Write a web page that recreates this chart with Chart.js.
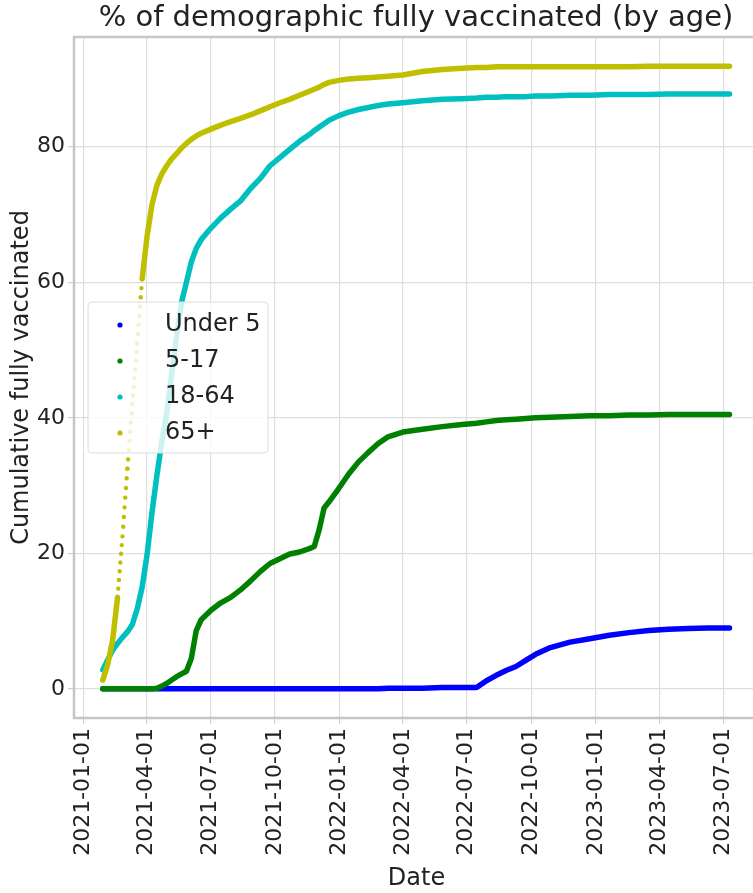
<!DOCTYPE html>
<html>
<head>
<meta charset="utf-8">
<title>% of demographic fully vaccinated (by age)</title>
<script src="https://cdn.jsdelivr.net/npm/chart.js@4.4.1/dist/chart.umd.min.js"></script>
<style>
  html, body { margin: 0; padding: 0; background: #ffffff; overflow: hidden; }
  #wrap { width: 832px; height: 893px; }
</style>
</head>
<body>
<div id="wrap"><canvas id="chart" width="832" height="893"></canvas></div>
<script>
// Sample dates (shared by all age groups)
const dates = [
  '2021-01-29','2021-02-05','2021-02-12','2021-02-19','2021-02-26','2021-03-05','2021-03-12','2021-03-19',
  '2021-03-26','2021-04-02','2021-04-09','2021-04-16','2021-04-23','2021-04-30','2021-05-07','2021-05-14',
  '2021-05-21','2021-05-28','2021-06-04','2021-06-11','2021-06-18','2021-07-02','2021-07-16','2021-07-30',
  '2021-08-13','2021-08-27','2021-09-10','2021-09-24','2021-10-08','2021-10-22','2021-11-05','2021-11-19',
  '2021-11-26','2021-12-03','2021-12-10','2021-12-17','2021-12-31','2022-01-14','2022-01-28','2022-02-11',
  '2022-02-25','2022-03-11','2022-04-01','2022-04-29','2022-05-27','2022-06-24','2022-07-15','2022-07-29',
  '2022-08-12','2022-08-26','2022-09-09','2022-09-23','2022-10-07','2022-10-28','2022-11-25','2022-12-23',
  '2023-01-20','2023-02-17','2023-03-17','2023-04-14','2023-05-12','2023-06-09','2023-07-10'
];

// Cumulative % fully vaccinated per age group
const under5 = [
  0,0,0,0,0,0,0,0,
  0,0,0,0,0,0,0,0,
  0,0,0,0,0,0,0,0,
  0,0,0,0,0,0,0,0,
  0,0,0,0,0,0,0,0,
  0,0.1,0.1,0.1,0.2,0.2,0.2,1.2,
  2.0,2.7,3.3,4.2,5.1,6.1,6.9,7.4,
  7.9,8.3,8.6,8.8,8.9,9.0,9.0
];
const age5to17 = [
  0,0,0,0,0,0,0,0,
  0,0,0,0.1,0.4,0.8,1.3,1.8,
  2.2,2.6,4.5,8.6,10.2,11.6,12.7,13.5,
  14.6,15.9,17.3,18.5,19.2,19.9,20.2,20.7,
  21.0,23.5,26.7,27.6,29.6,31.7,33.5,34.9,
  36.2,37.2,37.9,38.3,38.7,39.0,39.2,39.4,
  39.6,39.7,39.8,39.9,40.0,40.1,40.2,40.3,
  40.3,40.4,40.4,40.5,40.5,40.5,40.5
];
const age18to64 = [
  2.8,4.3,5.7,6.7,7.6,8.4,9.5,11.8,
  15.0,19.8,26.0,31.5,36.5,40.7,46.5,52.0,
  57.0,60.0,63.0,65.0,66.3,68.0,69.5,70.8,
  72.0,73.8,75.3,77.2,78.4,79.6,80.8,81.8,
  82.4,82.9,83.4,83.9,84.6,85.1,85.5,85.8,
  86.1,86.3,86.5,86.8,87.0,87.1,87.2,87.3,
  87.3,87.4,87.4,87.4,87.5,87.5,87.6,87.6,
  87.7,87.7,87.7,87.8,87.8,87.8,87.8
];
const age65plus = [
  1.3,3.6,7.2,13.5,22.5,32.5,42.0,51.0,
  60.5,66.8,71.5,74.3,76.0,77.2,78.2,79.0,
  79.8,80.5,81.1,81.6,82.0,82.6,83.2,83.7,
  84.2,84.7,85.3,85.9,86.5,87.0,87.6,88.2,
  88.5,88.8,89.2,89.5,89.8,90.0,90.1,90.2,
  90.3,90.4,90.6,91.1,91.4,91.6,91.7,91.7,
  91.8,91.8,91.8,91.8,91.8,91.8,91.8,91.8,
  91.8,91.8,91.9,91.9,91.9,91.9,91.9
];

const seriesLabels = ['Under 5', '5-17', '18-64', '65+'];
const seriesColors = ['#0000ff', '#008000', '#00bfbf', '#bfbf00'];

// Axis ticks and extents
const tickDates = ['2021-01-01','2021-04-01','2021-07-01','2021-10-01','2022-01-01','2022-04-01',
                   '2022-07-01','2022-10-01','2023-01-01','2023-04-01','2023-07-01'];
const xRange = ['2020-12-19', '2023-08-21'];
const yTicks = [0, 20, 40, 60, 80];
const yRange = [-4.3, 96.2];

// Dates are plotted as days since 2021-01-01
const EPOCH = Date.UTC(2021, 0, 1);
function dayOf(s) {
  const [y, m, d] = s.split('-').map(Number);
  return (Date.UTC(y, m - 1, d) - EPOCH) / 86400000;
}
const dayNums = dates.map(dayOf);

const FONT = '"DejaVu Sans", "Liberation Sans", sans-serif';
const TEXT = '#222222';
const GRID = '#dedede';

// Pixel distance between consecutive daily readings on a segment
function dailyStep(ctx) {
  const n = dayNums[ctx.p1DataIndex] - dayNums[ctx.p0DataIndex];
  const len = Math.hypot(ctx.p1.x - ctx.p0.x, ctx.p1.y - ctx.p0.y);
  return len / n;
}
// Where the curve climbs fast, the daily readings separate into single dots
const segmentStyle = {
  borderDash: ctx => { const s = dailyStep(ctx); return s > 6.5 ? [0.01, s - 0.01] : undefined; },
  borderWidth: ctx => (dailyStep(ctx) > 6.5 ? 4.4 : undefined)
};

const datasets = [under5, age5to17, age18to64, age65plus].map((vals, i) => ({
  label: seriesLabels[i],
  data: vals.map((v, k) => ({ x: dayNums[k], y: v })),
  borderColor: seriesColors[i],
  backgroundColor: seriesColors[i],
  borderWidth: 5.5,
  borderCapStyle: 'round',
  borderJoinStyle: 'round',
  pointRadius: 0,
  tension: 0,
  order: 4 - i,
  segment: segmentStyle
}));

// Plot frame drawn around the axes area
const frame = {
  id: 'frame',
  beforeDatasetsDraw(chart) {
    const { ctx, chartArea: a } = chart;
    ctx.save();
    ctx.strokeStyle = '#c6c6c6';
    ctx.lineWidth = 2.5;
    ctx.strokeRect(a.left, a.top, a.right - a.left, a.bottom - a.top);
    ctx.restore();
  }
};

// Legend box inside the plot
const legendBox = {
  id: 'legendBox',
  afterDatasetsDraw(chart) {
    const { ctx, chartArea: a } = chart;
    const x = a.left + 14, y = a.top + 265, w = 180, h = 151;
    ctx.save();
    ctx.beginPath();
    ctx.roundRect(x, y, w, h, 4);
    ctx.fillStyle = 'rgba(255,255,255,0.8)';
    ctx.fill();
    ctx.strokeStyle = '#dcdcdc';
    ctx.lineWidth = 1;
    ctx.stroke();
    ctx.font = '24px ' + FONT;
    ctx.textBaseline = 'middle';
    ctx.textAlign = 'left';
    seriesLabels.forEach((lab, i) => {
      const cy = y + 23 + i * 36;
      ctx.beginPath();
      ctx.arc(x + 32, cy, 2.6, 0, Math.PI * 2);
      ctx.fillStyle = seriesColors[i];
      ctx.fill();
      ctx.fillStyle = TEXT;
      ctx.fillText(lab, x + 77, cy);
    });
    ctx.restore();
  }
};

new Chart(document.getElementById('chart'), {
  type: 'line',
  data: { datasets },
  plugins: [frame, legendBox],
  options: {
    responsive: false,
    animation: false,
    events: [],
    layout: { padding: 0 },
    plugins: {
      legend: { display: false },
      tooltip: { enabled: false },
      title: {
        display: true,
        text: '% of demographic fully vaccinated (by age)',
        color: TEXT,
        font: { family: FONT, size: 29, weight: 'normal', lineHeight: 1.2 },
        padding: { top: 1, bottom: 1.2 }
      }
    },
    scales: {
      x: {
        type: 'linear',
        position: 'bottom',
        min: dayOf(xRange[0]),
        max: dayOf(xRange[1]),
        afterBuildTicks: s => { s.ticks = tickDates.map(d => ({ value: dayOf(d) })); },
        afterFit: s => { s.height = 175; },
        grid: { color: GRID, lineWidth: 1.2, drawTicks: true, tickLength: 6, tickColor: '#cfcfcf' },
        border: { display: false },
        ticks: {
          autoSkip: false,
          minRotation: 90,
          maxRotation: 90,
          padding: 4,
          color: TEXT,
          font: { family: FONT, size: 22 },
          callback: (v, i) => tickDates[i]
        },
        title: {
          display: true,
          text: 'Date',
          color: TEXT,
          font: { family: FONT, size: 24 },
          padding: { top: 0, bottom: 0 }
        }
      },
      y: {
        type: 'linear',
        position: 'left',
        min: yRange[0],
        max: yRange[1],
        afterBuildTicks: s => { s.ticks = yTicks.map(v => ({ value: v })); },
        afterFit: s => { s.width = 74; },
        grid: { color: GRID, lineWidth: 1.2, drawTicks: true, tickLength: 6, tickColor: '#cfcfcf' },
        border: { display: false },
        ticks: {
          padding: 3,
          color: TEXT,
          font: { family: FONT, size: 22 },
          callback: v => String(v)
        },
        title: {
          display: true,
          text: 'Cumulative fully vaccinated',
          color: TEXT,
          font: { family: FONT, size: 24 },
          padding: { top: 7.6, bottom: 0 }
        }
      },
      pad: {
        type: 'linear',
        axis: 'y',
        position: 'right',
        display: true,
        afterFit: s => { s.width = 73; },
        grid: { display: false, drawTicks: false },
        border: { display: false },
        ticks: { display: false }
      }
    }
  }
});
</script>
</body>
</html>
